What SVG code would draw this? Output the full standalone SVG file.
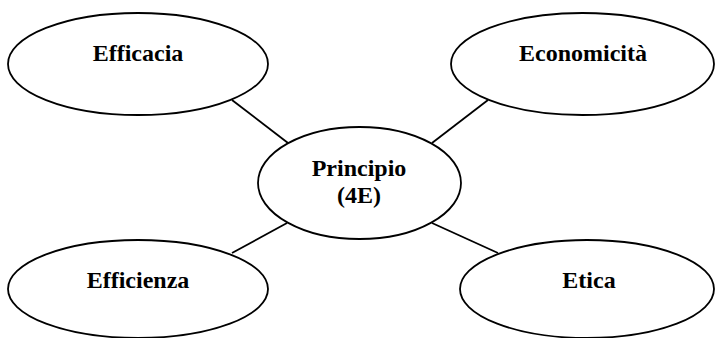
<svg xmlns="http://www.w3.org/2000/svg" width="715" height="338" viewBox="0 0 715 338">
<style>
.n{fill:#fff;stroke:#000;stroke-width:1.8}
.t{font-family:"Liberation Serif","Times New Roman",serif;font-weight:bold;font-size:24px;text-anchor:middle;fill:#000}
.c{stroke:#000;stroke-width:1.8;fill:none}
</style>
<rect width="715" height="338" fill="#fff"/>
<g id="connectors">
<line class="c" x1="232" y1="100" x2="288" y2="143"/>
<line class="c" x1="488" y1="100" x2="432" y2="143"/>
<line class="c" x1="232" y1="253" x2="287" y2="223"/>
<line class="c" x1="432" y1="223" x2="498" y2="253"/>
</g>
<g id="efficacia">
<ellipse class="n" cx="138" cy="64" rx="130" ry="51"/>
<text class="t" x="138" y="61">Efficacia</text>
</g>
<g id="economicita">
<ellipse class="n" cx="582.5" cy="64" rx="131.5" ry="51"/>
<text class="t" x="583" y="61">Economicità</text>
</g>
<g id="principio">
<ellipse class="n" cx="359.5" cy="183" rx="101.5" ry="56"/>
<text class="t" x="359" y="176">Principio</text>
<text class="t" x="359" y="203">(4E)</text>
</g>
<g id="efficienza">
<ellipse class="n" cx="138" cy="289" rx="130" ry="49"/>
<text class="t" x="138" y="288">Efficienza</text>
</g>
<g id="etica">
<ellipse class="n" cx="587" cy="289" rx="127" ry="49"/>
<text class="t" x="589" y="288">Etica</text>
</g>
</svg>
